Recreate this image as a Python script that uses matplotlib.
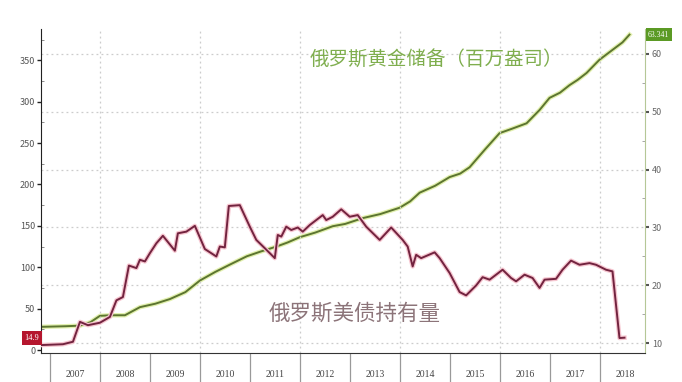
import matplotlib
matplotlib.use("Agg")
import matplotlib.pyplot as plt
import matplotlib.patheffects as pe
import matplotlib.transforms as mtransforms
import numpy as np

plt.rcParams['font.family'] = ['Noto Sans CJK SC', 'DejaVu Sans']

# Russia gold reserves (million oz), right axis
gold_year = [2006.83, 2007.3, 2007.59, 2007.8, 2007.99, 2008.2, 2008.49, 2008.79, 2009.1,
             2009.39, 2009.7, 2009.99, 2010.3, 2010.6, 2010.93, 2011.2, 2011.53, 2011.75,
             2011.99, 2012.3, 2012.65, 2012.9, 2013.25, 2013.6, 2013.99, 2014.2, 2014.39,
             2014.7, 2014.99, 2015.2, 2015.39, 2015.7, 2015.99, 2016.25, 2016.53, 2016.79,
             2016.99, 2017.2, 2017.39, 2017.55, 2017.73, 2017.99, 2018.25, 2018.45, 2018.59]
gold_val = [12.8, 12.9, 13.0, 13.6, 14.7, 14.8, 14.8, 16.2, 16.8,
            17.6, 18.8, 20.8, 22.3, 23.6, 25.0, 25.8, 26.7, 27.4,
            28.3, 29.1, 30.2, 30.6, 31.6, 32.3, 33.4, 34.5, 36.0,
            37.2, 38.7, 39.3, 40.4, 43.5, 46.3, 47.1, 48.0, 50.3,
            52.4, 53.3, 54.6, 55.5, 56.7, 59.0, 60.7, 62.0, 63.341]

# Russia US treasury holdings (bn USD), left axis
ust_year = [2006.82, 2007.25, 2007.45, 2007.59, 2007.75, 2007.99, 2008.19, 2008.32, 2008.45,
            2008.57, 2008.72, 2008.79, 2008.89, 2008.99, 2009.12, 2009.25, 2009.49, 2009.55,
            2009.72, 2009.89, 2010.09, 2010.32, 2010.39, 2010.49, 2010.57, 2010.79, 2010.99,
            2011.12, 2011.29, 2011.49, 2011.55, 2011.62, 2011.72, 2011.82, 2011.95, 2012.05,
            2012.19, 2012.45, 2012.52, 2012.65, 2012.82, 2012.99, 2013.15, 2013.32, 2013.59,
            2013.82, 2014.05, 2014.15, 2014.25, 2014.32, 2014.42, 2014.69, 2014.79, 2014.99,
            2015.19, 2015.32, 2015.52, 2015.65, 2015.79, 2016.05, 2016.22, 2016.32, 2016.49,
            2016.65, 2016.79, 2016.89, 2017.12, 2017.25, 2017.42, 2017.59, 2017.79, 2017.92,
            2018.12, 2018.25, 2018.39, 2018.49]
ust_val = [6, 7, 10, 34, 30, 33, 40, 60, 64,
           102, 99, 109, 107, 117, 129, 138, 120, 141,
           143, 150, 122, 113, 125, 124, 174, 175, 149,
           133, 123, 111, 139, 137, 149, 145, 148, 143,
           151, 163, 157, 161, 170, 161, 163, 149, 133,
           148, 133, 125, 101, 115, 111, 118, 111, 93,
           70, 66, 78, 88, 85, 97, 87, 83, 91,
           87, 75, 85, 86, 97, 108, 103, 105, 103,
           97, 95, 14.5, 14.9]

years = list(range(2007, 2019))
year_labels = [str(y) for y in years]

fig = plt.figure(figsize=(6.82, 3.82), dpi=100)
ax = fig.add_axes([0.0601, 0.0759, 0.8856, 0.848])
ax2 = ax.twinx()

ax.set_xlim(2006.81, 2018.9)
ax.set_ylim(-3.6, 387.7)
ax2.set_ylim(8.27, 64.3)

# grid follows right axis
for v in range(10, 61, 10):
    ax2.axhline(v, color='#cccccc', lw=0.9, ls=(0, (1.5, 2.5)), zorder=0)
for y in range(2008, 2019, 2):
    ax.axvline(y, color='#cccccc', lw=0.9, ls=(0, (1.5, 2.5)), zorder=0)

ax2.plot(gold_year, gold_val, color='#5c7530', lw=1.4, zorder=3,
         path_effects=[pe.Stroke(linewidth=3.2, foreground='#e2f0ae'), pe.Normal()])
ax.plot(ust_year, ust_val, color='#72233f', lw=1.4, zorder=3,
        path_effects=[pe.Stroke(linewidth=3.2, foreground='#f6c6d0'), pe.Normal()])
ax.set_zorder(ax2.get_zorder() + 1)
ax.patch.set_visible(False)

# spines
ax.spines['top'].set_visible(False)
ax2.spines['top'].set_visible(False)
ax.spines['right'].set_visible(False)
ax2.spines['left'].set_visible(False)
ax2.spines['bottom'].set_visible(False)
ax.spines['left'].set_color('#222222')
ax.spines['bottom'].set_color('#333333')
ax2.spines['right'].set_color('#b5c796')

# left axis ticks
ax.set_yticks(range(0, 351, 50))
ax.set_yticks(range(0, 376, 25), minor=True)
ax.tick_params(axis='y', which='major', direction='out', length=3, width=1,
               color='#222222', labelsize=6.5, labelcolor='#555555', pad=1)
ax.tick_params(axis='y', which='minor', direction='in', length=2, color='#777777')

# right axis ticks
ax2.set_yticks(range(10, 61, 10))
ax2.set_yticks(range(10, 64, 5), minor=True)
ax2.tick_params(axis='y', which='major', direction='out', length=3, width=1.5,
                color='#555555', labelsize=6.5, labelcolor='#666666', pad=2)
ax2.tick_params(axis='y', which='minor', direction='in', length=2, color='#999999')

# x axis: year boxes
ax.set_xticks(years)
ax.set_xticklabels([])
ax.set_xticks([y + 0.5 for y in years], minor=True)
ax.set_xticklabels(year_labels, minor=True, family='Liberation Serif')
ax.tick_params(axis='x', which='major', direction='out', length=22, width=0.9, color='#999999')
ax.tick_params(axis='x', which='minor', length=0, pad=12, labelsize=7, labelcolor='#444444')

# annotations
ax.text(0.655, 0.905, '俄罗斯黄金储备（百万盎司）', transform=ax.transAxes,
        ha='center', va='center', fontsize=14, color='#7fae4e')
ax.text(0.52, 0.12, '俄罗斯美债持有量', transform=ax.transAxes,
        ha='center', va='center', fontsize=15.5, color='#8c7479')

# last value boxes
tl = mtransforms.blended_transform_factory(ax.transAxes, ax.transData)
ax.text(-0.003, ust_val[-1], '14.9', transform=tl, ha='right', va='center',
        fontsize=6, color='white', family='Liberation Serif',
        bbox=dict(boxstyle='square,pad=0.35', fc='#b5162e', ec='none'))
tr = mtransforms.blended_transform_factory(ax2.transAxes, ax2.transData)
ax2.text(1.005, gold_val[-1], '63.341', transform=tr, ha='left', va='center',
         fontsize=5.5, color='white', family='Liberation Serif',
         bbox=dict(boxstyle='square,pad=0.3', fc='#5b9a24', ec='none'))

fig.savefig('out.png', dpi=100)
